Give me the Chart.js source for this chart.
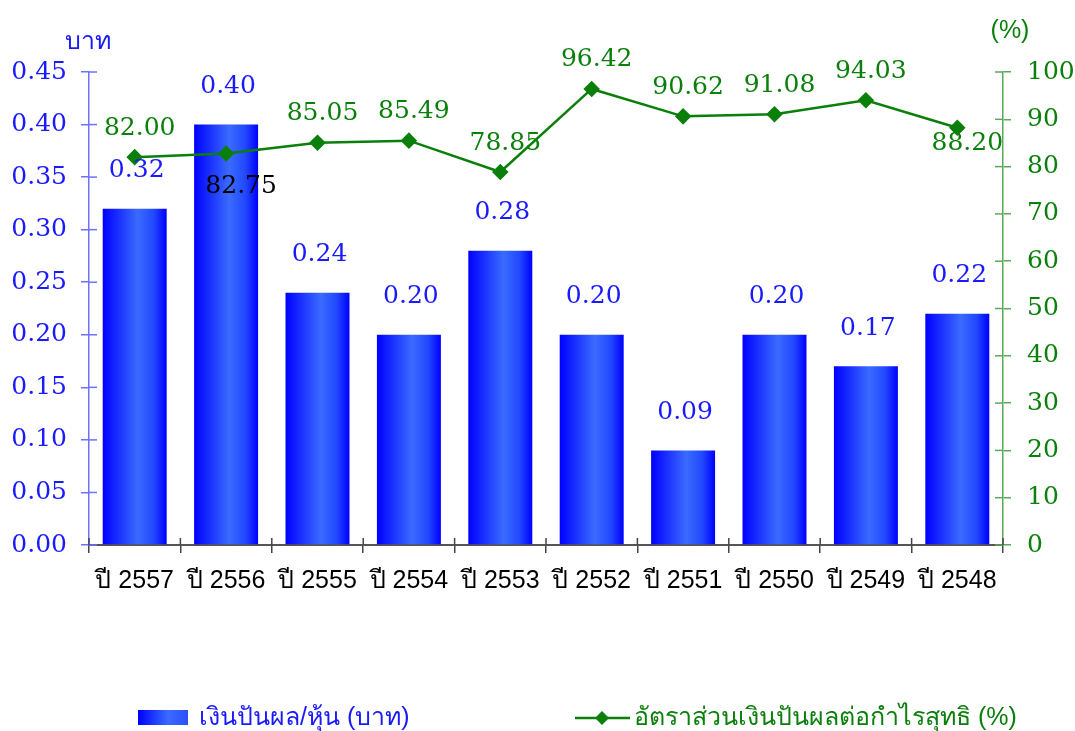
<!DOCTYPE html>
<html><head><meta charset="utf-8">
<script src="https://cdn.jsdelivr.net/npm/chart.js@4"></script>
<style>html,body{margin:0;padding:0;background:#fff}#wrap{position:relative;width:1075px;height:731px}</style>
</head><body><div id="wrap"><canvas id="c" width="1075" height="731"></canvas></div>
<script>
const categories = ['ปี 2557','ปี 2556','ปี 2555','ปี 2554','ปี 2553','ปี 2552','ปี 2551','ปี 2550','ปี 2549','ปี 2548'];
const dividend = [0.32,0.40,0.24,0.20,0.28,0.20,0.09,0.20,0.17,0.22];
const payoutRatio = [82.00,82.75,85.05,85.49,78.85,96.42,90.62,91.08,94.03,88.20];
const seriesNames = ['เงินปันผล/หุ้น (บาท)','อัตราส่วนเงินปันผลต่อกำไรสุทธิ (%)'];
const leftTitle = 'บาท';
const rightTitle = '(%)';

const BLUE = '#1a1aff', GREEN = '#0a7f0a';
const SERIF = '"DejaVu Serif", serif';
const SANS = '"Liberation Sans", "DejaVu Sans", sans-serif';
const BAR_PCT = 0.7;

function barFill(c) {
  const ch = c.chart;
  const xs = ch.scales && ch.scales.x;
  if (!xs || !ch.chartArea || c.dataIndex === undefined) return '#2a50ff';
  const cx = xs.getPixelForValue(c.dataIndex);
  const w = (ch.chartArea.width / categories.length) * BAR_PCT;
  const g = ch.ctx.createLinearGradient(cx - w / 2, 0, cx + w / 2, 0);
  g.addColorStop(0, '#0000ff');
  g.addColorStop(0.55, '#3a6bff');
  g.addColorStop(0.8, '#2248ff');
  g.addColorStop(1, '#0000ff');
  return g;
}

const crossTicks = {
  id: 'crossTicks',
  afterDraw(chart) {
    const ctx = chart.ctx;
    const ca = chart.chartArea;
    ctx.save();
    ctx.lineWidth = 1.5;
    const y = chart.scales.y, y1 = chart.scales.y1;
    ctx.strokeStyle = '#7070ff';
    y.ticks.forEach((t, i) => { const p = y.getPixelForTick(i); ctx.beginPath(); ctx.moveTo(ca.left, p); ctx.lineTo(ca.left + 8, p); ctx.stroke(); });
    ctx.strokeStyle = '#5aa85a';
    y1.ticks.forEach((t, i) => { const p = y1.getPixelForTick(i); ctx.beginPath(); ctx.moveTo(ca.right - 8, p); ctx.lineTo(ca.right, p); ctx.stroke(); });
    ctx.strokeStyle = '#444';
    for (let i = 0; i <= categories.length; i++) {
      const p = ca.left + (ca.right - ca.left) * i / categories.length;
      ctx.beginPath(); ctx.moveTo(p, ca.bottom - 7); ctx.lineTo(p, ca.bottom); ctx.stroke();
    }
    // axis titles
    ctx.textBaseline = 'middle';
    ctx.textAlign = 'center';
    ctx.font = '25px ' + SANS;
    ctx.fillStyle = BLUE;
    ctx.fillText(leftTitle, 88, 42);
    ctx.fillStyle = GREEN;
    ctx.fillText(rightTitle, 1010, 31);
    // legend
    ctx.font = '25px ' + SANS;
    const g = ctx.createLinearGradient(138, 0, 188, 0);
    g.addColorStop(0, '#0000ff'); g.addColorStop(0.6, '#3a6bff'); g.addColorStop(1, '#2a50ff');
    ctx.fillStyle = g;
    ctx.fillRect(138, 710, 50, 15);
    ctx.fillStyle = BLUE; ctx.textAlign = 'left';
    ctx.fillText(seriesNames[0], 199, 718);
    ctx.strokeStyle = GREEN; ctx.lineWidth = 2.5;
    ctx.beginPath(); ctx.moveTo(575, 718); ctx.lineTo(630, 718); ctx.stroke();
    ctx.fillStyle = GREEN;
    ctx.beginPath(); ctx.moveTo(602, 711); ctx.lineTo(609, 718); ctx.lineTo(602, 725); ctx.lineTo(595, 718); ctx.closePath(); ctx.fill();
    ctx.fillText(seriesNames[1], 634, 718);
    ctx.restore();
  }
};

const valueLabels = {
  id: 'valueLabels',
  afterDatasetsDraw(chart) {
    const ctx = chart.ctx;
    ctx.save();
    ctx.font = '25px ' + SERIF;
    ctx.textAlign = 'center';
    ctx.textBaseline = 'middle';
    chart.getDatasetMeta(0).data.forEach((el, i) => {
      ctx.fillStyle = BLUE;
      ctx.fillText(dividend[i].toFixed(2), el.x + 2, el.y - 38);
    });
    const special = {1: {dx: 15, dy: 33, color: '#000'}, 9: {dx: 10, dy: 16, color: GREEN}};
    chart.getDatasetMeta(1).data.forEach((el, i) => {
      const s = special[i] || {dx: 5, dy: -29, color: GREEN};
      ctx.fillStyle = s.color;
      ctx.fillText(payoutRatio[i].toFixed(2), el.x + s.dx, el.y + s.dy);
    });
    ctx.restore();
  }
};

new Chart(document.getElementById('c'), {
  data: {
    labels: categories,
    datasets: [
      { type: 'bar', label: seriesNames[0], data: dividend, yAxisID: 'y', order: 2,
        backgroundColor: barFill, barPercentage: BAR_PCT, categoryPercentage: 1.0 },
      { type: 'line', label: seriesNames[1], data: payoutRatio, yAxisID: 'y1', order: 1,
        borderColor: GREEN, backgroundColor: GREEN, borderWidth: 2.5, tension: 0,
        pointStyle: 'rectRot', pointRadius: 6.5, pointBackgroundColor: GREEN, pointBorderColor: GREEN }
    ]
  },
  options: {
    responsive: false,
    animation: false,
    layout: { padding: { top: 72, bottom: 126, left: 0, right: 0 } },
    plugins: { legend: { display: false }, tooltip: { enabled: false } },
    scales: {
      x: {
        offset: true,
        grid: { offset: true, drawOnChartArea: false, drawTicks: true, tickLength: 8, color: '#444', lineWidth: 1.5 },
        border: { display: true, color: '#555', width: 2 },
        ticks: { color: '#000', font: { family: SANS, size: 25 }, padding: 13, maxRotation: 0, autoSkip: false },
        afterFit(s) { s.height = 60; }
      },
      y: {
        position: 'left', min: 0, max: 0.45,
        grid: { drawOnChartArea: false, drawTicks: true, tickLength: 8, color: '#7070ff', lineWidth: 1.5 },
        border: { display: true, color: '#7070ff', width: 1.5 },
        ticks: { stepSize: 0.05, color: BLUE, font: { family: SERIF, size: 25 }, padding: 14,
          callback: v => Number(v).toFixed(2) },
        afterFit(s) { s.width = 89; }
      },
      y1: {
        position: 'right', min: 0, max: 100,
        grid: { drawOnChartArea: false, drawTicks: true, tickLength: 8, color: '#5aa85a', lineWidth: 1.5 },
        border: { display: true, color: '#5aa85a', width: 1.5 },
        ticks: { stepSize: 10, color: GREEN, font: { family: SERIF, size: 25 }, padding: 16 },
        afterFit(s) { s.width = 72; }
      }
    }
  },
  plugins: [valueLabels, crossTicks]
});
</script></body></html>
